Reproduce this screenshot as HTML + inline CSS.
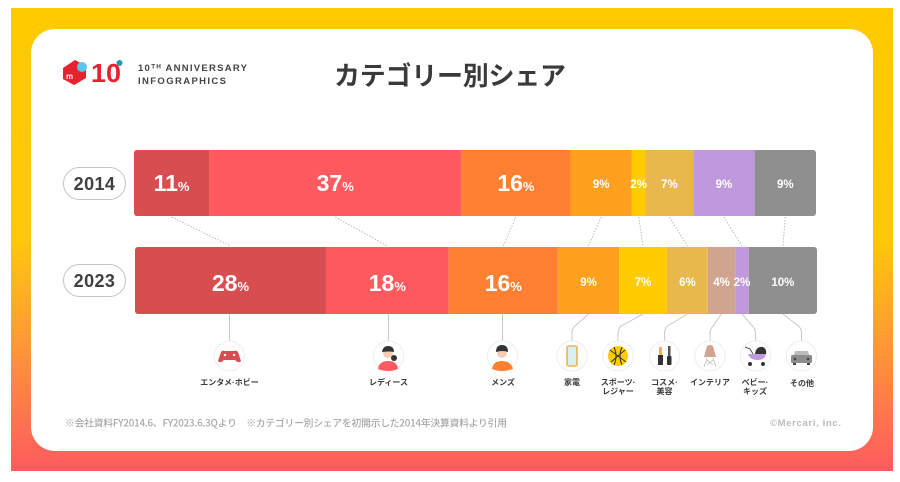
<!DOCTYPE html>
<html lang="ja">
<head>
<meta charset="utf-8">
<title>カテゴリー別シェア</title>
<style>
html,body{margin:0;padding:0;background:#fff;width:900px;height:482px;overflow:hidden}
svg{display:block;filter:blur(.35px)}
text{font-family:"Liberation Sans","Noto Sans CJK JP",sans-serif}
.jp{font-family:"Noto Sans CJK JP","Liberation Sans",sans-serif}
.cat{font-size:8px;font-weight:700;fill:#3a3a3a;text-anchor:middle}
</style>
</head>
<body>
<svg id="chart" width="900" height="482" viewBox="0 0 900 482" xmlns="http://www.w3.org/2000/svg">
  <defs>
    <linearGradient id="bg" x1="0" y1="0" x2="0" y2="1">
      <stop offset="0" stop-color="#ffcb00"/>
      <stop offset="0.5" stop-color="#ffc80a"/>
      <stop offset="0.72" stop-color="#ff9a35"/>
      <stop offset="1" stop-color="#ff5a5f"/>
    </linearGradient>
  </defs>
  <rect x="11" y="8" width="882" height="463" fill="url(#bg)"/>
  <rect x="31" y="29" width="842" height="422" rx="24" fill="#fff"/>

  <g>
    <path d="M63 68 L75 60 L86 66 L86 78 L74 85 L63 79 Z" fill="#e8212e"/>
    <text x="66" y="79" font-size="8" fill="#fff" font-weight="700">m</text>
    <circle cx="82" cy="67" r="5" fill="#5cc4f2"/>
    <text x="91" y="82" font-size="26" font-weight="700" fill="#e8212e" textLength="30" lengthAdjust="spacingAndGlyphs">10</text>
    <circle cx="119.500" cy="63" r="3" fill="#1f9bb0"/>
  </g>
  <text x="138" y="71" font-size="9.500" font-weight="700" fill="#444" textLength="109">10ᵀᴴ ANNIVERSARY</text>
  <text x="138" y="84" font-size="9.500" font-weight="700" fill="#444" textLength="88">INFOGRAPHICS</text>
  <text class="jp" x="450" y="85" font-size="26" font-weight="700" fill="#3a3a3a" text-anchor="middle" textLength="232">カテゴリー別シェア</text>

  <g>
    <rect x="63.500" y="167.500" width="62" height="32" rx="16" fill="#fff" stroke="#c4c4c4"/>
    <text x="94.500" y="190" font-size="18" font-weight="700" fill="#404040" text-anchor="middle" letter-spacing=".4">2014</text>
  </g>
  <g>
    <rect x="63.500" y="264.500" width="62" height="32" rx="16" fill="#fff" stroke="#c4c4c4"/>
    <text x="94.500" y="287" font-size="18" font-weight="700" fill="#404040" text-anchor="middle" letter-spacing=".4">2023</text>
  </g>

  <g id="connectors"></g>
  <g id="leaders"></g>
  <g id="bars"></g>

  <g>
    <circle cx="229.500" cy="356" r="15" fill="#fff" stroke="#eeeeee"/>
    <path d="M218 361 L221 352 Q222 350 225 351 L234 351 Q237 350 238 352 L241 361 Q239 364 235 360 L224 360 Q220 364 218 361 Z" fill="#d84e50"/>
    <circle cx="225" cy="355" r="1.200" fill="#fff"/><circle cx="234" cy="355" r="1.200" fill="#fff"/>
  </g>
  <g>
    <circle cx="388.500" cy="356" r="15" fill="#fff" stroke="#eeeeee"/>
    <path d="M378 369 Q379 361 388 361 Q397 361 398 369 Q388 373 378 369 Z" fill="#ff5a5f"/>
    <circle cx="388" cy="353" r="5" fill="#f6cdb4"/>
    <path d="M382 352 Q383 346 388 346 Q394 346 394 352 Q389 351 382 352 Z" fill="#333"/>
    <circle cx="394" cy="358" r="3" fill="#333"/>
  </g>
  <g>
    <circle cx="502.500" cy="356" r="15" fill="#fff" stroke="#eeeeee"/>
    <path d="M492 369 Q493 361 502 361 Q511 361 513 369 Q502 373 492 369 Z" fill="#ff8033"/>
    <circle cx="502" cy="353" r="5" fill="#f6cdb4"/>
    <path d="M496 352 Q496 345 502 345 Q508 345 508 352 Q503 350 496 352 Z" fill="#333"/>
  </g>
  <g>
    <circle cx="572" cy="356" r="15" fill="#fff" stroke="#eeeeee"/>
    <rect x="567" y="346" width="10" height="20" rx="1.500" fill="#d8eef2" stroke="#e8b64c" stroke-width="1.600"/>
  </g>
  <g>
    <circle cx="618" cy="356" r="15" fill="#fff" stroke="#eeeeee"/>
    <circle cx="618" cy="356" r="10" fill="#ffcc00"/>
    <path d="M610 350 L626 362 M611 362 L625 350 M614 347 Q618 356 614 365 M622 347 Q618 356 622 365" stroke="#333" stroke-width="1" fill="none"/>
  </g>
  <g>
    <circle cx="664.500" cy="356" r="15" fill="#fff" stroke="#eeeeee"/>
    <rect x="658" y="355" width="5" height="10" fill="#333"/><rect x="659" y="347" width="3" height="8" fill="#e8b64c"/>
    <rect x="667" y="356" width="4.500" height="9" rx="1" fill="#333"/><rect x="668" y="346" width="2.500" height="10" fill="#555"/>
  </g>
  <g>
    <circle cx="710" cy="356" r="15" fill="#fff" stroke="#eeeeee"/>
    <path d="M704 357 L707 346 Q710 344 713 346 L716 357 Z" fill="#d0a48f"/>
    <path d="M707 358 L704 367 M713 358 L716 367 M707 360 L713 365 M713 360 L707 365" stroke="#bbb" stroke-width=".8" fill="none"/>
  </g>
  <g>
    <circle cx="755.500" cy="356" r="15" fill="#fff" stroke="#eeeeee"/>
    <path d="M748 354 L766 354 Q765 360 758 360 Q750 360 748 354 Z" fill="#c098dc"/>
    <path d="M755 354 Q756 346 763 347 Q767 349 766 354 Z" fill="#333"/>
    <path d="M745 347 L750 349 L753 354" stroke="#555" stroke-width="1" fill="none"/>
    <circle cx="750" cy="364" r="2" fill="#333"/><circle cx="763" cy="364" r="2" fill="#333"/>
  </g>
  <g>
    <circle cx="801.500" cy="356" r="15" fill="#fff" stroke="#eeeeee"/>
    <path d="M795 351 L808 351 L809 355 L794 355 Z" fill="#bbb"/>
    <rect x="791" y="355" width="21" height="8" rx="1.500" fill="#8c8c8c"/>
    <rect x="793" y="363" width="3" height="2" fill="#444"/><rect x="807" y="363" width="3" height="2" fill="#444"/>
    <circle cx="795" cy="359" r="1.300" fill="#444"/><circle cx="808" cy="359" r="1.300" fill="#444"/>
  </g>

  <g>
    <text class="cat" x="229.500" y="385">エンタメ·ホビー</text>
    <text class="cat" x="388.500" y="385">レディース</text>
    <text class="cat" x="503" y="385">メンズ</text>
    <text class="cat" x="572" y="385">家電</text>
    <text class="cat" x="618" y="385">スポーツ·</text>
    <text class="cat" x="618" y="394">レジャー</text>
    <text class="cat" x="664.500" y="385">コスメ·</text>
    <text class="cat" x="664.500" y="394">美容</text>
    <text class="cat" x="710" y="385">インテリア</text>
    <text class="cat" x="755" y="385">ベビー·</text>
    <text class="cat" x="755" y="394">キッズ</text>
    <text class="cat" x="802" y="386">その他</text>
  </g>

  <text class="jp" x="65" y="426.500" font-size="9.800" font-weight="500" fill="#a8a8a8" textLength="442">※会社資料FY2014.6、FY2023.6.3Qより　※カテゴリー別シェアを初開示した2014年決算資料より引用</text>
  <text x="770" y="426" font-size="9.500" font-weight="700" fill="#bcbcbc" textLength="71">©Mercari, Inc.</text>
</svg>
<script>
var categories = ["エンタメ・ホビー","レディース","メンズ","家電","スポーツ・レジャー","コスメ・美容","インテリア","ベビー・キッズ","その他"];
var colors = ["#d84e50","#ff5a5f","#ff8033","#ffa01e","#ffcc00","#e8b84c","#d0a48f","#c098dc","#8f8f8f"];
var values2014 = [11,37,16,9,2,7,0,9,9];
var values2023 = [28,18,16,9,7,6,4,2,10];
var NS = "http://www.w3.org/2000/svg";

function xScale(startX, pct) { return startX + pct * 6.82; }

function svgEl(tag, attrs) {
  var e = document.createElementNS(NS, tag);
  for (var k in attrs) e.setAttribute(k, attrs[k]);
  return e;
}

function centers(values, startX) {
  var run = 0, out = [];
  values.forEach(function (v) {
    out.push(xScale(startX, run + v / 2));
    run += v;
  });
  return out;
}

function drawBar(values, startX, y, h, baseSmall, baseBig, yearName) {
  var barsG = document.getElementById("bars");
  var clipId = "clip" + yearName;
  var clip = svgEl("clipPath", { id: clipId });
  clip.appendChild(svgEl("rect", { x: startX, y: y, width: xScale(0, 100), height: h, rx: 3 }));
  barsG.appendChild(clip);
  var run = 0;
  var labels = [];
  values.forEach(function (v, i) {
    if (v > 0) {
      var seg = svgEl("rect", { x: xScale(startX, run), y: y, width: xScale(0, v), height: h, fill: colors[i], "clip-path": "url(#" + clipId + ")" });
      
      
      barsG.appendChild(seg);
      labels.push([v, i, xScale(startX, run + v / 2)]);
    }
    run += v;
  });
  labels.forEach(function (l) {
    var big = l[1] < 3;
    var t = svgEl("text", { x: l[2], y: big ? baseBig : baseSmall, "text-anchor": "middle", fill: "#fff", "font-weight": "700", "font-size": big ? 23 : 11.5 });
    
    
    t.appendChild(document.createTextNode(l[0]));
    var p = svgEl("tspan", { "font-size": big ? 13 : 11.5, "font-weight": "700" });
    p.textContent = "%";
    t.appendChild(p);
    barsG.appendChild(t);
  });
}

function drawConnectors() {
  var g = document.getElementById("connectors");
  var a = centers(values2014, 134);
  var b = centers(values2023, 135);
  values2014.forEach(function (v, i) {
    if (v <= 0 || values2023[i] <= 0) return;
    var line = svgEl("line", { x1: a[i], y1: 217, x2: b[i], y2: 246, stroke: "#b4b4b4", "stroke-width": 0.9, "stroke-dasharray": "1.500 1.500" });
    
    
    g.appendChild(line);
  });
}

function drawLeaders() {
  var g = document.getElementById("leaders");
  var iconX = [229.5, 388.5, 502.5, 572, 618, 664.5, 710, 755.5, 801.5];
  var b = centers(values2023, 135);
  b.forEach(function (cx, i) {
    var ix = iconX[i];
    var d = Math.abs(cx - ix) < 3
      ? "M" + ix + " 314 L" + ix + " 341"
      : "M" + cx + " 314 L" + (ix + (cx > ix ? 3 : -3)) + " 326 Q" + ix + " 329 " + ix + " 333 L" + ix + " 341";
    var p = svgEl("path", { d: d, stroke: "#c9c9c9", "stroke-width": 1, fill: "none" });
    
    
    g.appendChild(p);
  });
}

drawConnectors();
drawLeaders();
drawBar(values2014, 134, 150, 66, 188, 191, "2014");
drawBar(values2023, 135, 247, 67, 286, 291, "2023");
</script>
</body>
</html>
